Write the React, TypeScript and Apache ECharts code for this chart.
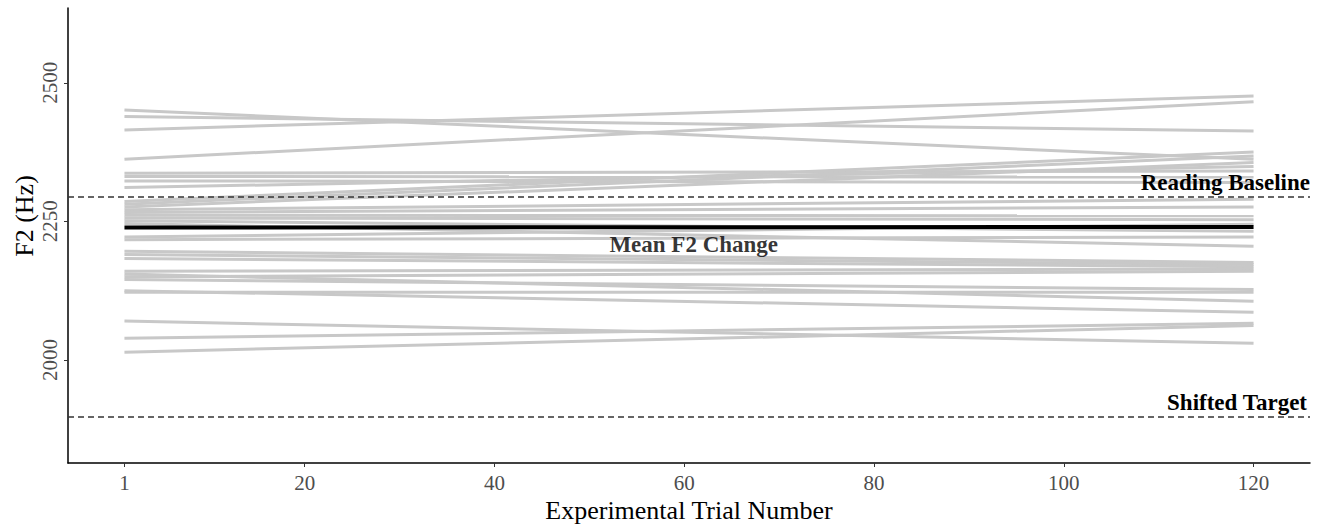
import React, { useEffect, useRef } from "react";
import * as echarts from "echarts";

// F2 (Hz) of each speaker's fitted line at the first and the last trial
const firstTrial = 1;
const lastTrial = 120;
const startF2 = [
  2451, 2439, 2415, 2362, 2337, 2331, 2323, 2311, 2286, 2281, 2276, 2271, 2266,
  2261, 2256, 2251, 2246, 2222, 2217, 2196, 2190, 2183, 2160, 2150, 2145, 2122,
  2155, 2125, 2070, 2039, 2014,
];
const endF2 = [
  2362, 2413, 2476, 2466, 2341, 2330, 2320, 2349, 2375, 2368, 2356, 2290, 2276,
  2260, 2253, 2232, 2205, 2245, 2222, 2176, 2172, 2168, 2164, 2160, 2127, 2122,
  2106, 2086, 2030, 2066, 2062,
];
const meanStart = 2239;
const meanEnd = 2240;
const meanLabelTrial = 61;
const readingBaseline = 2295;
const shiftedTarget = 1898;
const xTicks = [1, 20, 40, 60, 80, 100, 120];
const yTicks = [2000, 2250, 2500];

const SERIF = "'Liberation Serif', 'Times New Roman', serif";

export default function App() {
  const ref = useRef<HTMLDivElement>(null);
  useEffect(() => {
    if (!ref.current) return;
    const chart = echarts.init(ref.current, undefined, { renderer: "svg" });
    const grey = startF2.map((s, i) => ({
      type: "line",
      data: [
        [firstTrial, s],
        [lastTrial, endF2[i]],
      ],
      showSymbol: false,
      symbol: "none",
      lineStyle: { color: "#c8c8c8", width: 3 },
      silent: true,
      z: 2,
    }));
    const annot = {
      color: "#000",
      fontFamily: SERIF,
      fontWeight: "bold",
      fontSize: 23,
    };
    chart.setOption({
      animation: false,
      grid: { left: 68, right: 17, top: 8, bottom: 61, outerBoundsMode: "none", containLabel: false },
      xAxis: {
        type: "value",
        min: -4.95,
        max: 125.95,
        splitLine: { show: false },
        axisLine: { onZero: false, lineStyle: { color: "#000", width: 1.5 } },
        axisTick: { customValues: xTicks, length: 4, lineStyle: { color: "#333" } },
        axisLabel: {
          customValues: xTicks,
          color: "#4d4d4d",
          fontFamily: SERIF,
          fontSize: 21,
          margin: 9,
        },
        name: "Experimental Trial Number",
        nameLocation: "middle",
        nameGap: 32,
        nameTextStyle: { color: "#000", fontFamily: SERIF, fontSize: 26 },
      },
      yAxis: {
        type: "value",
        min: 1814,
        max: 2635,
        splitLine: { show: false },
        axisLine: { show: true, onZero: false, lineStyle: { color: "#000", width: 1.5 } },
        axisTick: { show: true, customValues: yTicks, length: 4, lineStyle: { color: "#333" } },
        axisLabel: {
          customValues: yTicks,
          formatter: (v: number) => String(v),
          color: "#4d4d4d",
          fontFamily: SERIF,
          fontSize: 21,
          rotate: 90,
          margin: 8,
        },
      },
      graphic: [
        {
          type: "text",
          x: 24,
          y: 216,
          rotation: Math.PI / 2,
          style: {
            text: "F2 (Hz)",
            fill: "#000",
            font: `26px ${SERIF}`,
            align: "center",
            verticalAlign: "middle",
          },
        },
      ],
      series: [
        ...grey,
        {
          type: "line",
          data: [
            [firstTrial, meanStart],
            [lastTrial, meanEnd],
          ],
          symbol: "none",
          lineStyle: { color: "#000", width: 4 },
          z: 5,
          markLine: {
            silent: true,
            symbol: "none",
            lineStyle: { color: "#333", type: [6, 4], width: 1.5 },
            data: [
              {
                yAxis: readingBaseline,
                label: {
                  ...annot,
                  formatter: "Reading Baseline",
                  position: "insideEndTop",
                  distance: [0, 2],
                },
              },
              {
                yAxis: shiftedTarget,
                label: {
                  ...annot,
                  formatter: "Shifted Target",
                  position: "insideEndTop",
                  distance: [3, 2],
                },
              },
            ],
          },
        },
        {
          type: "scatter",
          data: [[meanLabelTrial, meanStart]],
          symbolSize: 0,
          silent: true,
          z: 6,
          label: {
            ...annot,
            show: true,
            formatter: "Mean F2 Change",
            position: "bottom",
            distance: 6,
          },
        },
      ],
    });
    return () => chart.dispose();
  }, []);
  return (
    <div
      ref={ref}
      style={{ position: "fixed", left: 0, top: 0, width: 1327, height: 524, background: "#fff" }}
    />
  );
}
